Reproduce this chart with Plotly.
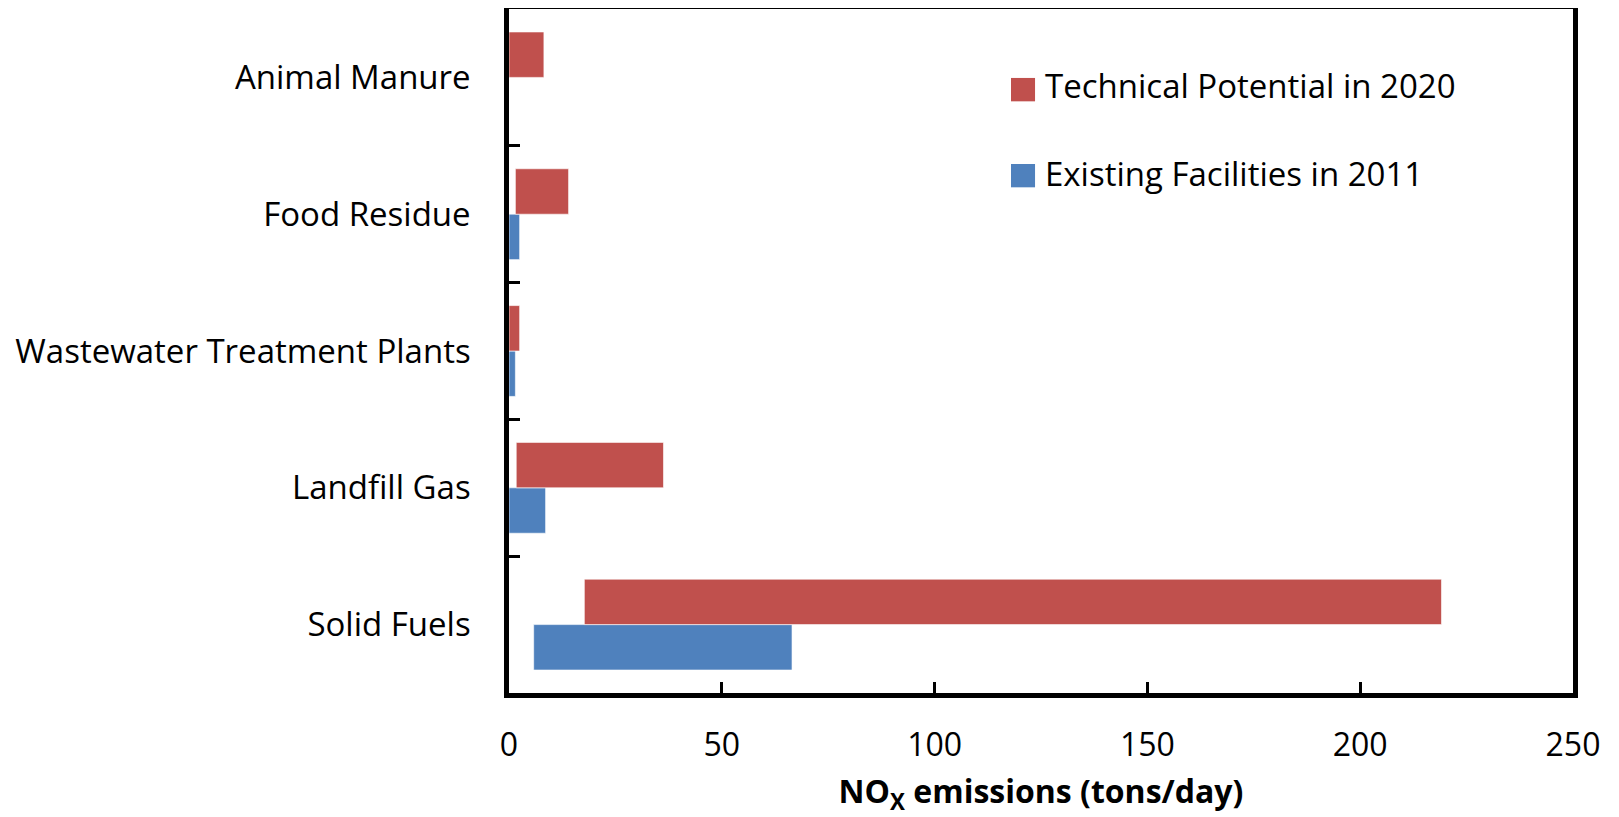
import plotly.graph_objects as go

# Categories listed bottom -> top
categories = ["Solid Fuels", "Landfill Gas", "Wastewater Treatment Plants", "Food Residue", "Animal Manure"]

# Technical Potential in 2020 (bar start / end, tons/day)
tech_start = [17.7, 1.7, 0.0, 1.5, 0.0]
tech_end = [219.1, 36.3, 2.5, 14.0, 8.2]

# Existing Facilities in 2011 (bar start / end, tons/day)
exist_start = [5.8, 0.0, 0.0, 0.0, None]
exist_end = [66.5, 8.6, 1.5, 2.5, None]

x_ticks = [0, 50, 100, 150, 200, 250]
legend_names = ["Technical Potential in 2020", "Existing Facilities in 2011"]

RED = "#C0504D"
BLUE = "#4F81BD"
FONT = "Open Sans"

def lengths(starts, ends):
    return [None if e is None else e - s for s, e in zip(starts, ends)]

fig = go.Figure()
fig.add_trace(go.Bar(
    y=categories, x=lengths(exist_start, exist_end), base=exist_start,
    orientation="h", name=legend_names[1], marker_color=BLUE,
    marker_line=dict(color="rgba(255,255,255,0.6)", width=1), showlegend=False,
))
fig.add_trace(go.Bar(
    y=categories, x=lengths(tech_start, tech_end), base=tech_start,
    orientation="h", name=legend_names[0], marker_color=RED,
    marker_line=dict(color="rgba(255,255,255,0.6)", width=1), showlegend=False,
))

# Manual legend (large square swatches)
for (y0, y1, ty, col, name) in [(0.8650, 0.8992, 0.8879, RED, legend_names[0]),
                                (0.7393, 0.7734, 0.7588, BLUE, legend_names[1])]:
    fig.add_shape(type="rect", xref="paper", yref="paper",
                  x0=0.4718, x1=0.4944, y0=y0, y1=y1,
                  fillcolor=col, line=dict(width=0))
    fig.add_annotation(xref="paper", yref="paper", x=0.502, y=ty,
                       xanchor="left", yanchor="middle", text=name, showarrow=False,
                       font=dict(family=FONT, size=33, color="black"))

fig.update_layout(
    width=1611, height=809,
    margin=dict(l=500.5, r=45.5, t=1, b=124, autoexpand=False),
    paper_bgcolor="white", plot_bgcolor="white",
    barmode="group", bargap=0.336, bargroupgap=0,
    showlegend=False,
    font=dict(family=FONT, color="black"),
)
fig.update_xaxes(
    range=[0, 250], tickvals=x_ticks, ticktext=[str(v) for v in x_ticks],
    ticks="inside", ticklen=11, tickwidth=3, tickcolor="black",
    showline=True, linewidth=4.5, linecolor="black", mirror=True,
    showgrid=False, zeroline=False,
    tickfont=dict(family=FONT, size=32, color="black"),
    ticklabelstandoff=20,
    title=dict(text="<b>NO<sub>X</sub> emissions (tons/day)</b>",
               font=dict(family=FONT, size=32, color="black"), standoff=28),
    automargin=False,
)
fig.update_yaxes(
    type="category", categoryorder="array", categoryarray=categories,
    ticks="inside", tickson="boundaries", ticklen=11, tickwidth=3, tickcolor="black",
    showline=True, linewidth=4.5, linecolor="black", mirror=True,
    showgrid=False, zeroline=False,
    tickfont=dict(family=FONT, size=33, color="black"),
    ticklabelstandoff=27,
    automargin=False,
)

fig.write_html("out.html")
